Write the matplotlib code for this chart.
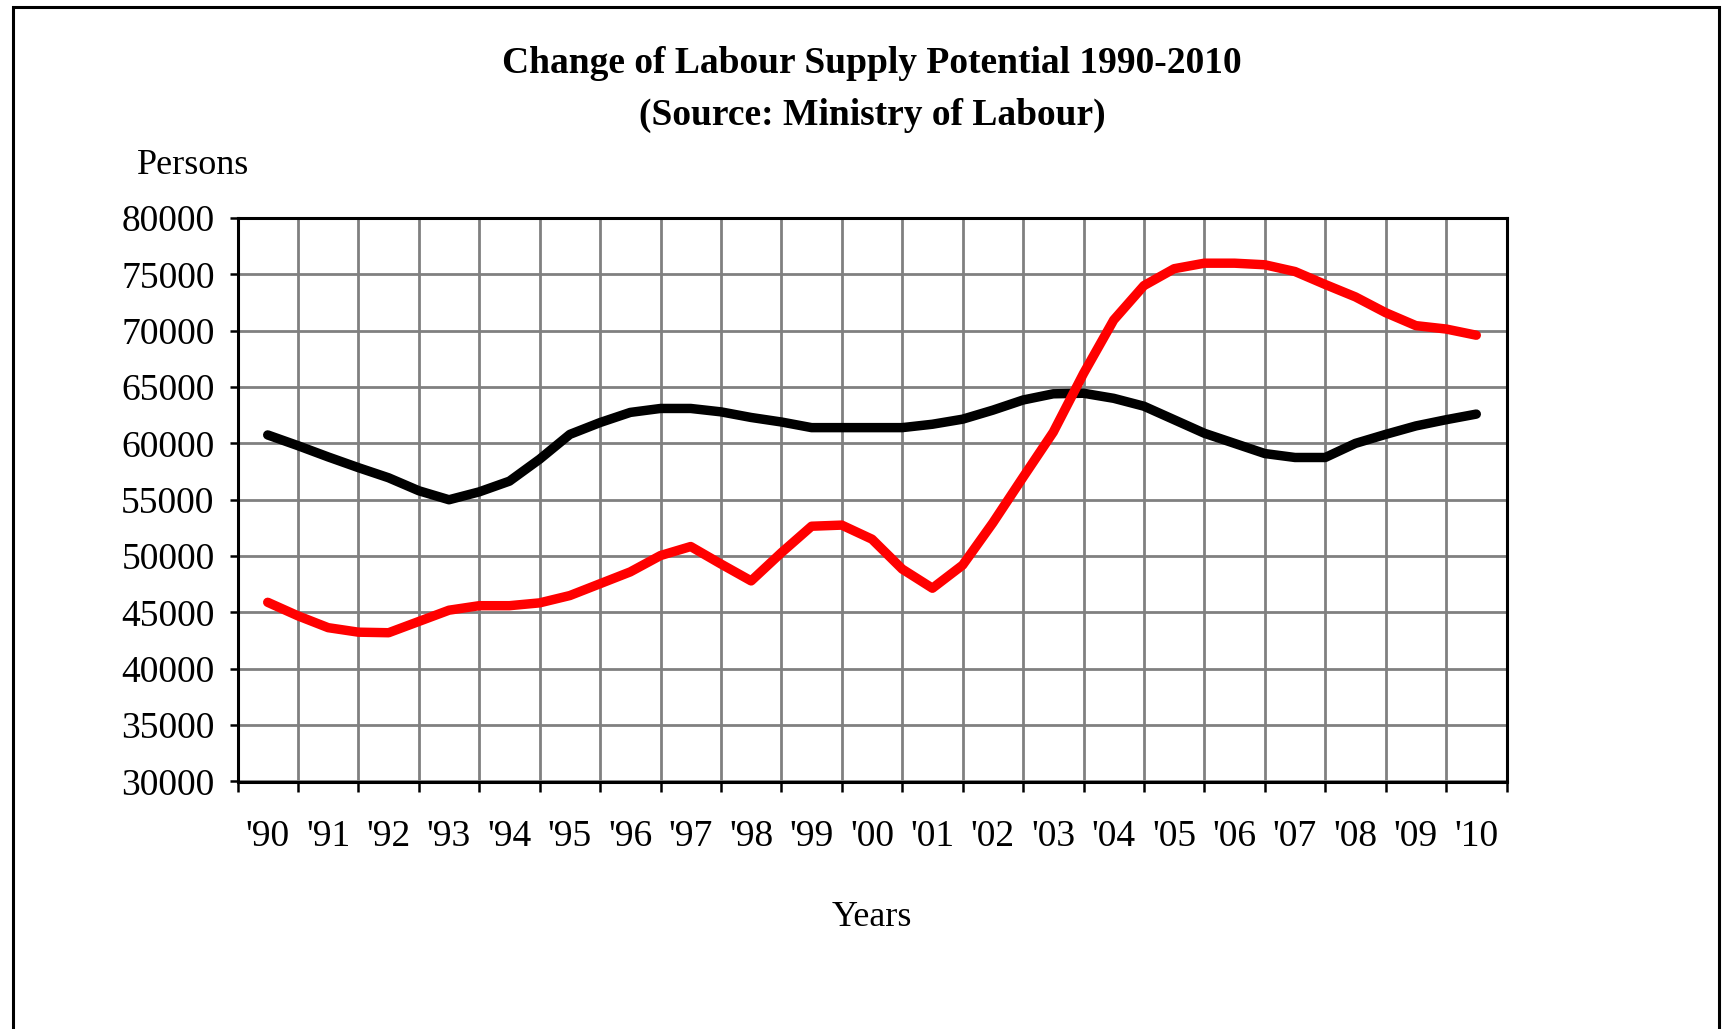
import matplotlib
matplotlib.use("Agg")
import matplotlib.pyplot as plt
from matplotlib.patches import Rectangle
import numpy as np

# ---- data (half-year resolution) ----
year_labels = ["'90", "'91", "'92", "'93", "'94", "'95", "'96", "'97", "'98", "'99",
               "'00", "'01", "'02", "'03", "'04", "'05", "'06", "'07", "'08", "'09", "'10"]
periods = [1990 + 0.5 * k for k in range(41)]

black_series = [60750, 59800, 58800, 57850, 56950, 55800, 55000, 55700, 56650, 58600,
                60800, 61850, 62750, 63100, 63100, 62800, 62300, 61900, 61400, 61400,
                61400, 61400, 61700, 62150, 62950, 63850, 64400, 64450, 64000, 63300,
                62100, 60900, 60000, 59100, 58750, 58750, 60000, 60800, 61550, 62100,
                62600]
red_series = [45900, 44700, 43650, 43250, 43200, 44200, 45200, 45600, 45600, 45850,
              46500, 47550, 48600, 50050, 50850, 49300, 47800, 50300, 52650, 52750,
              51500, 48850, 47150, 49200, 52950, 57000, 61000, 66200, 70950, 74000,
              75500, 75990, 75990, 75850, 75250, 74100, 73000, 71600, 70450, 70150,
              69600]
y_ticks = [30000, 35000, 40000, 45000, 50000, 55000, 60000, 65000, 70000, 75000, 80000]

plt.rcParams['font.family'] = ['Liberation Serif', 'DejaVu Serif']

W, H, DPI = 1728, 1029, 100
fig = plt.figure(figsize=(W / DPI, H / DPI), dpi=DPI)
fig.patch.set_facecolor('white')

# outer frame
fig.add_artist(Rectangle((13 / W, -0.05), (1719 - 13) / W, 1 - 7 / H + 0.05,
                         transform=fig.transFigure, fill=False, edgecolor='black',
                         linewidth=2.2))

left, right = 237.5 / W, 1506.5 / W
top, bottom = 1 - 218 / H, 1 - 781.5 / H
ax = fig.add_axes([left, bottom, right - left, top - bottom])

x = np.array(periods)
first = 1990
ax.plot(x, black_series, color='black', linewidth=6.8, solid_capstyle='round',
        solid_joinstyle='round', zorder=3)
ax.plot(x, red_series, color='#FF0000', linewidth=6.8, solid_capstyle='round',
        solid_joinstyle='round', zorder=4)

ax.set_xlim(first - 0.5, first + len(year_labels) - 0.5)
ax.set_ylim(30000, 80000)

# category boundaries as major ticks (gridlines), centers as labels
bounds = [first - 0.5 + k for k in range(len(year_labels) + 1)]
centers = [first + k for k in range(len(year_labels))]
ax.set_xticks(bounds)
ax.set_xticklabels([])
ax.set_xticks(centers, minor=True)
ax.set_xticklabels(year_labels, minor=True, fontsize=27)
ax.tick_params(axis='x', which='major', direction='out', length=7, width=1.8, color='black')
ax.tick_params(axis='x', which='minor', length=0, pad=27.5)

ax.set_yticks(y_ticks)
ax.set_yticklabels([str(v) for v in y_ticks], fontsize=27)
ax.tick_params(axis='y', which='major', direction='out', length=6, width=1.8, pad=10.5)

ax.grid(True, which='major', color='#808080', linewidth=2.0, zorder=0)
ax.set_axisbelow(True)
for s in ax.spines.values():
    s.set_linewidth(2.2)
    s.set_color('black')

cx = (left + right) / 2
fig.text(cx, 1 - 63.5 / H, 'Change of Labour Supply Potential 1990-2010', ha='center',
         va='center', fontsize=27, fontweight='bold')
fig.text(cx, 1 - 115.5 / H, '(Source: Ministry of Labour)', ha='center',
         va='center', fontsize=27, fontweight='bold')
fig.text(193 / W, 1 - 166 / H, 'Persons', ha='center', va='center', fontsize=26)
fig.text(cx, 1 - 917 / H, 'Years', ha='center', va='center', fontsize=26)

fig.savefig('out.png', dpi=DPI, facecolor='white')
